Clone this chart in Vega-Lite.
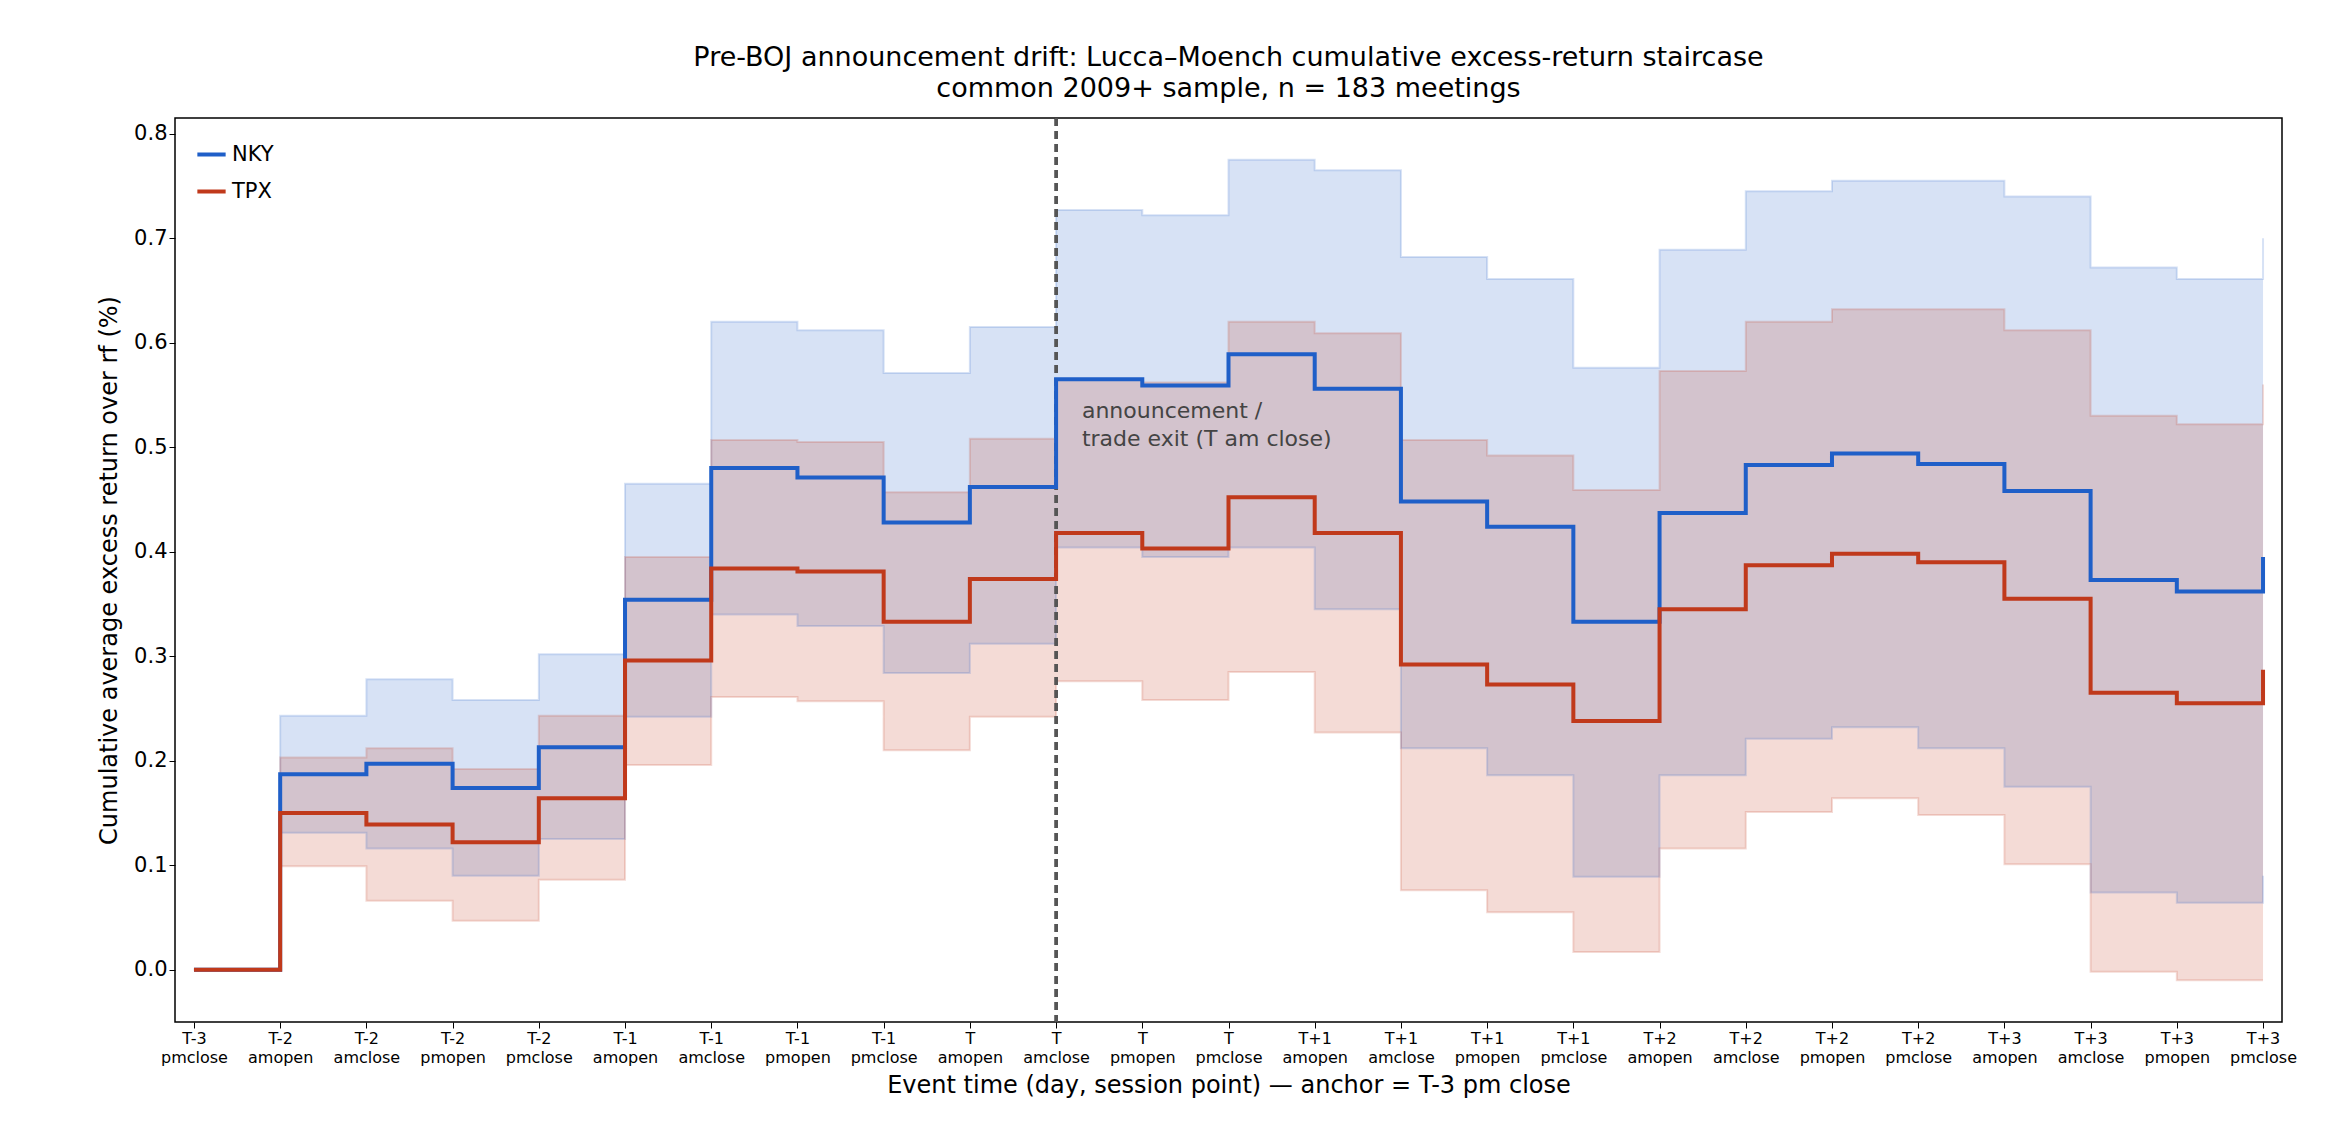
{
  "$schema": "https://vega.github.io/schema/vega-lite/v6.json",
  "width": 2107,
  "height": 904,
  "autosize": {"type": "none"},
  "padding": {"left": 175, "top": 118, "right": 52, "bottom": 120},
  "background": "white",
  "title": {
    "text": "Pre-BOJ announcement drift: Lucca–Moench cumulative excess-return staircase",
    "subtitle": "common 2009+ sample, n = 183 meetings",
    "fontSize": 27, "subtitleFontSize": 27, "fontWeight": "normal",
    "font": "DejaVu Sans", "subtitleFont": "DejaVu Sans",
    "color": "black", "subtitleColor": "black", "offset": 14, "subtitlePadding": 4
  },
  "config": {
    "font": "DejaVu Sans",
    "view": {"stroke": "black", "strokeWidth": 1.5},
    "axis": {"grid": false, "domain": false, "tickColor": "black", "labelColor": "black", "titleColor": "black", "titleFontWeight": "normal"}
  },
  "datasets": {
    "s": [
      {"i":0,"series":"NKY","m":0,"lo":0,"hi":0},
      {"i":1,"series":"NKY","m":0.187,"lo":0.131,"hi":0.243},
      {"i":2,"series":"NKY","m":0.197,"lo":0.116,"hi":0.278},
      {"i":3,"series":"NKY","m":0.174,"lo":0.090,"hi":0.258},
      {"i":4,"series":"NKY","m":0.213,"lo":0.125,"hi":0.302},
      {"i":5,"series":"NKY","m":0.354,"lo":0.242,"hi":0.465},
      {"i":6,"series":"NKY","m":0.480,"lo":0.340,"hi":0.620},
      {"i":7,"series":"NKY","m":0.471,"lo":0.329,"hi":0.612},
      {"i":8,"series":"NKY","m":0.428,"lo":0.284,"hi":0.571},
      {"i":9,"series":"NKY","m":0.462,"lo":0.312,"hi":0.615},
      {"i":10,"series":"NKY","m":0.565,"lo":0.404,"hi":0.727},
      {"i":11,"series":"NKY","m":0.559,"lo":0.395,"hi":0.722},
      {"i":12,"series":"NKY","m":0.589,"lo":0.404,"hi":0.775},
      {"i":13,"series":"NKY","m":0.556,"lo":0.345,"hi":0.765},
      {"i":14,"series":"NKY","m":0.448,"lo":0.212,"hi":0.682},
      {"i":15,"series":"NKY","m":0.424,"lo":0.186,"hi":0.661},
      {"i":16,"series":"NKY","m":0.333,"lo":0.089,"hi":0.576},
      {"i":17,"series":"NKY","m":0.437,"lo":0.186,"hi":0.689},
      {"i":18,"series":"NKY","m":0.483,"lo":0.221,"hi":0.745},
      {"i":19,"series":"NKY","m":0.494,"lo":0.232,"hi":0.755},
      {"i":20,"series":"NKY","m":0.484,"lo":0.212,"hi":0.755},
      {"i":21,"series":"NKY","m":0.458,"lo":0.175,"hi":0.740},
      {"i":22,"series":"NKY","m":0.373,"lo":0.074,"hi":0.672},
      {"i":23,"series":"NKY","m":0.362,"lo":0.064,"hi":0.661},
      {"i":24,"series":"NKY","m":0.395,"lo":0.090,"hi":0.700},
      {"i":0,"series":"TPX","m":0,"lo":0,"hi":0},
      {"i":1,"series":"TPX","m":0.150,"lo":0.099,"hi":0.203},
      {"i":2,"series":"TPX","m":0.139,"lo":0.066,"hi":0.212},
      {"i":3,"series":"TPX","m":0.122,"lo":0.047,"hi":0.192},
      {"i":4,"series":"TPX","m":0.164,"lo":0.086,"hi":0.243},
      {"i":5,"series":"TPX","m":0.296,"lo":0.196,"hi":0.395},
      {"i":6,"series":"TPX","m":0.384,"lo":0.261,"hi":0.507},
      {"i":7,"series":"TPX","m":0.381,"lo":0.257,"hi":0.505},
      {"i":8,"series":"TPX","m":0.333,"lo":0.210,"hi":0.457},
      {"i":9,"series":"TPX","m":0.374,"lo":0.242,"hi":0.508},
      {"i":10,"series":"TPX","m":0.418,"lo":0.276,"hi":0.565},
      {"i":11,"series":"TPX","m":0.403,"lo":0.258,"hi":0.562},
      {"i":12,"series":"TPX","m":0.452,"lo":0.285,"hi":0.620},
      {"i":13,"series":"TPX","m":0.418,"lo":0.227,"hi":0.609},
      {"i":14,"series":"TPX","m":0.292,"lo":0.076,"hi":0.507},
      {"i":15,"series":"TPX","m":0.273,"lo":0.055,"hi":0.492},
      {"i":16,"series":"TPX","m":0.238,"lo":0.017,"hi":0.459},
      {"i":17,"series":"TPX","m":0.345,"lo":0.116,"hi":0.573},
      {"i":18,"series":"TPX","m":0.387,"lo":0.151,"hi":0.620},
      {"i":19,"series":"TPX","m":0.398,"lo":0.164,"hi":0.632},
      {"i":20,"series":"TPX","m":0.390,"lo":0.148,"hi":0.632},
      {"i":21,"series":"TPX","m":0.355,"lo":0.101,"hi":0.612},
      {"i":22,"series":"TPX","m":0.265,"lo":-0.002,"hi":0.530},
      {"i":23,"series":"TPX","m":0.255,"lo":-0.010,"hi":0.522},
      {"i":24,"series":"TPX","m":0.287,"lo":-0.010,"hi":0.560}
    ],
    "ann": [
      {"x":10.3,"y":0.535,"t":"announcement /"},
      {"x":10.3,"y":0.508,"t":"trade exit (T am close)"}
    ]
  },
  "data": {"name": "s"},
  "encoding": {
    "x": {
      "field": "i", "type": "quantitative",
      "scale": {"domain": [-0.22, 24.22], "nice": false, "zero": false},
      "axis": {
        "values": [0,1,2,3,4,5,6,7,8,9,10,11,12,13,14,15,16,17,18,19,20,21,22,23,24],
        "labelExpr": "split(['T-3 pmclose','T-2 amopen','T-2 amclose','T-2 pmopen','T-2 pmclose','T-1 amopen','T-1 amclose','T-1 pmopen','T-1 pmclose','T amopen','T amclose','T pmopen','T pmclose','T+1 amopen','T+1 amclose','T+1 pmopen','T+1 pmclose','T+2 amopen','T+2 amclose','T+2 pmopen','T+2 pmclose','T+3 amopen','T+3 amclose','T+3 pmopen','T+3 pmclose'][datum.value], ' ')",
        "labelFontSize": 16, "labelLineHeight": 19, "tickSize": 6,
        "title": "Event time (day, session point)  —  anchor = T-3 pm close",
        "titleFontSize": 24, "titlePadding": 8
      }
    },
    "color": {"field": "series", "type": "nominal", "scale": {"domain": ["NKY","TPX"], "range": ["#1f5fc8","#c0391b"]},
      "legend": {"orient": "top-left", "title": null, "symbolType": "stroke", "symbolStrokeWidth": 4, "symbolSize": 800, "labelFontSize": 21, "rowPadding": 10, "offset": 20, "labelColor": "black", "symbolOpacity": 1}}
  },
  "layer": [
    {
      "mark": {"type": "area", "interpolate": "step-after", "opacity": 0.18},
      "encoding": {
        "y": {"field": "lo", "type": "quantitative",
          "scale": {"domain": [-0.05, 0.815], "nice": false},
          "axis": {"values": [0,0.1,0.2,0.3,0.4,0.5,0.6,0.7,0.8], "format": ".1f", "labelFontSize": 21, "tickSize": 6,
            "title": "Cumulative average excess return over rf (%)", "titleFontSize": 24, "titlePadding": 12}},
        "y2": {"field": "hi"}
      }
    },
    {
      "mark": {"type": "line", "interpolate": "step-after", "opacity": 0.18, "strokeWidth": 2},
      "encoding": {"y": {"field": "hi", "type": "quantitative"}}
    },
    {
      "mark": {"type": "line", "interpolate": "step-after", "opacity": 0.18, "strokeWidth": 2},
      "encoding": {"y": {"field": "lo", "type": "quantitative"}}
    },
    {
      "mark": {"type": "rule", "color": "#777777", "strokeWidth": 1.5},
      "encoding": {"y": {"datum": 0}, "color": {"value": "#777777"}}
    },
    {
      "mark": {"type": "rule", "strokeWidth": 2.2, "strokeDash": [8, 5]},
      "encoding": {"x": {"datum": 10}, "color": {"value": "#555555"}}
    },
    {
      "mark": {"type": "line", "interpolate": "step-after", "strokeWidth": 4},
      "encoding": {"y": {"field": "m", "type": "quantitative"}}
    },
    {
      "data": {"name": "ann"},
      "mark": {"type": "text", "align": "left", "baseline": "middle", "fontSize": 22},
      "encoding": {"x": {"field": "x", "type": "quantitative"}, "y": {"field": "y", "type": "quantitative"}, "text": {"field": "t"}, "color": {"value": "#444444"}}
    }
  ]
}
